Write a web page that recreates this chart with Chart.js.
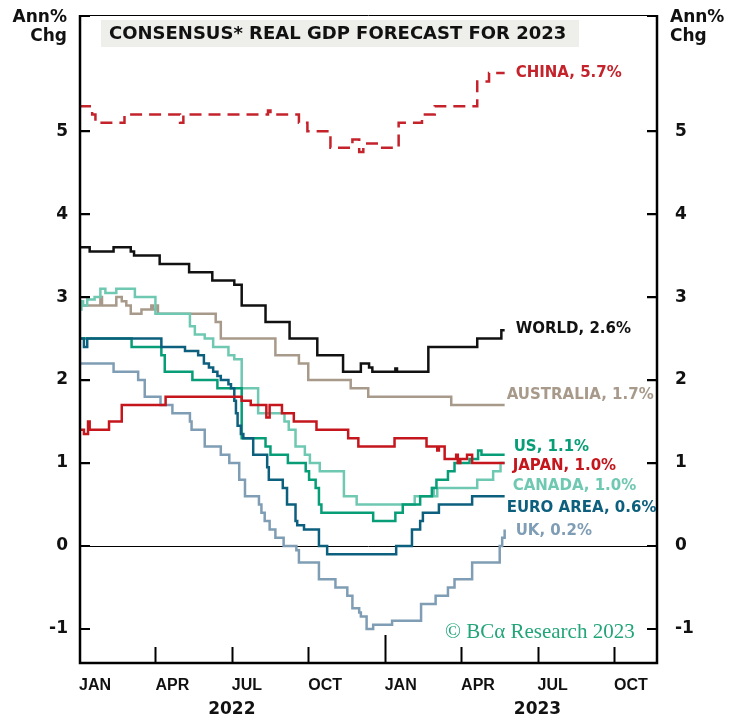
<!DOCTYPE html>
<html>
<head>
<meta charset="utf-8">
<script src="https://cdn.jsdelivr.net/npm/chart.js@4.4.0/dist/chart.umd.min.js"></script>
<style>
  html, body { margin: 0; padding: 0; background: #fff; }
  canvas { display: block; }
</style>
</head>
<body>
<canvas id="gdp" width="740" height="718"></canvas>
<script>
// Axis text
const quarterLabels = ['JAN', 'APR', 'JUL', 'OCT', 'JAN', 'APR', 'JUL', 'OCT'];
const yearLabels = ['2022', '2023'];
const yTickValues = [-1, 0, 1, 2, 3, 4, 5];
const titleText = 'CONSENSUS* REAL GDP FORECAST FOR 2023';
const unitText = ['Ann%', 'Chg'];
const creditText = '\u00A9 BC\u03B1 Research 2023';

// Consensus forecast for 2023 real GDP growth (%), by survey date
const chinaDates = ['2022-01-01','2022-01-17','2022-01-21','2022-02-23','2022-04-30','2022-05-04','2022-08-14','2022-08-17','2022-09-20','2022-09-30','2022-10-28','2022-11-23','2022-12-01','2022-12-06','2022-12-29','2023-01-18','2023-02-14','2023-02-28','2023-04-20','2023-05-04','2023-05-23'];
const chinaValues = [5.3,5.2,5.1,5.2,5.1,5.2,5.25,5.2,5.1,5.0,4.8,4.9,4.75,4.85,4.8,5.1,5.2,5.3,5.6,5.7,5.7];

const worldDates = ['2022-01-01','2022-01-14','2022-02-11','2022-03-02','2022-03-06','2022-04-06','2022-05-11','2022-06-08','2022-07-04','2022-07-13','2022-08-11','2022-09-09','2022-10-12','2022-11-12','2022-12-03','2022-12-13','2022-12-17','2023-01-14','2023-01-16','2023-02-21','2023-04-20','2023-05-19','2023-05-23'];
const worldValues = [3.6,3.55,3.6,3.55,3.5,3.4,3.3,3.2,3.15,2.9,2.7,2.5,2.3,2.1,2.2,2.15,2.1,2.14,2.1,2.4,2.5,2.6,2.6];

const australiaDates = ['2022-01-01','2022-01-27','2022-01-29','2022-02-14','2022-02-20','2022-02-25','2022-03-02','2022-03-15','2022-03-27','2022-03-29','2022-04-02','2022-04-04','2022-06-12','2022-06-18','2022-08-23','2022-09-20','2022-10-01','2022-11-21','2022-12-12','2023-03-20','2023-05-23'];
const australiaValues = [2.9,3.0,2.9,3.0,2.95,2.9,2.8,2.85,2.9,2.85,2.9,2.8,2.7,2.5,2.3,2.2,2.0,1.9,1.8,1.7,1.7];

const usDates = ['2022-01-01','2022-03-03','2022-04-08','2022-04-12','2022-05-15','2022-06-14','2022-07-13','2022-08-11','2022-08-17','2022-09-07','2022-09-28','2022-10-02','2022-10-10','2022-10-14','2022-10-17','2022-12-18','2023-01-14','2023-01-23','2023-02-12','2023-02-25','2023-03-02','2023-03-16','2023-03-24','2023-04-11','2023-04-21','2023-04-25','2023-05-23'];
const usValues = [2.5,2.4,2.3,2.1,2.0,1.9,1.3,1.2,1.1,1.0,0.9,0.8,0.7,0.5,0.4,0.3,0.4,0.5,0.6,0.7,0.8,0.9,1.0,1.05,1.15,1.1,1.1];

const japanDates = ['2022-01-01','2022-01-07','2022-01-12','2022-01-14','2022-02-06','2022-02-20','2022-04-13','2022-07-13','2022-07-24','2022-08-12','2022-08-16','2022-08-31','2022-09-14','2022-10-11','2022-11-18','2022-11-30','2023-01-13','2023-02-19','2023-03-03','2023-03-05','2023-03-12','2023-03-26','2023-03-28','2023-03-31','2023-04-08','2023-04-14','2023-05-23'];
const japanValues = [1.4,1.35,1.5,1.4,1.5,1.7,1.8,1.75,1.7,1.55,1.7,1.6,1.5,1.4,1.3,1.2,1.3,1.2,1.15,1.2,1.05,1.1,1.0,1.05,1.1,1.0,1.0];

const canadaDates = ['2022-01-01','2022-01-04','2022-01-06','2022-01-11','2022-01-20','2022-01-27','2022-02-02','2022-02-14','2022-03-07','2022-04-01','2022-05-12','2022-05-18','2022-05-30','2022-06-09','2022-06-27','2022-07-04','2022-07-13','2022-08-02','2022-09-03','2022-09-08','2022-09-16','2022-09-27','2022-10-03','2022-10-15','2022-11-13','2022-11-28','2023-02-06','2023-02-25','2023-02-27','2023-03-03','2023-04-20','2023-05-09','2023-05-18','2023-05-23'];
const canadaValues = [2.85,2.95,2.9,2.97,3.0,3.1,3.05,3.1,3.0,2.8,2.65,2.55,2.5,2.4,2.3,2.25,1.9,1.6,1.5,1.4,1.2,1.1,1.0,0.9,0.6,0.5,0.6,0.7,0.6,0.7,0.8,0.9,1.0,1.0];

const euroDates = ['2022-01-01','2022-01-07','2022-01-11','2022-04-08','2022-05-06','2022-05-22','2022-05-29','2022-06-04','2022-06-09','2022-06-14','2022-06-18','2022-06-27','2022-06-30','2022-07-04','2022-07-06','2022-07-08','2022-07-12','2022-07-15','2022-07-27','2022-08-13','2022-08-15','2022-09-01','2022-09-06','2022-09-16','2022-09-18','2022-09-26','2022-10-14','2022-10-24','2023-01-15','2023-02-03','2023-02-12','2023-02-15','2023-03-05','2023-04-14','2023-05-23'];
const euroValues = [2.5,2.4,2.5,2.4,2.35,2.3,2.2,2.15,2.1,2.05,2.0,1.95,1.9,1.75,1.6,1.45,1.35,1.3,1.1,0.95,0.8,0.7,0.5,0.3,0.25,0.2,0.0,-0.1,0.0,0.2,0.3,0.4,0.5,0.6,0.6];

const ukDates = ['2022-01-01','2022-02-11','2022-03-11','2022-03-19','2022-04-07','2022-04-21','2022-05-12','2022-05-14','2022-05-30','2022-06-18','2022-06-28','2022-07-10','2022-07-17','2022-08-03','2022-08-06','2022-08-10','2022-08-16','2022-08-23','2022-09-02','2022-09-17','2022-09-20','2022-10-14','2022-11-03','2022-11-17','2022-11-23','2022-12-01','2022-12-03','2022-12-10','2022-12-18','2023-01-10','2023-02-13','2023-03-01','2023-03-16','2023-03-24','2023-04-14','2023-05-17','2023-05-20','2023-05-23'];
const ukValues = [2.2,2.1,2.0,1.8,1.7,1.6,1.5,1.4,1.2,1.1,1.0,0.8,0.6,0.5,0.4,0.3,0.2,0.1,0.0,-0.05,-0.2,-0.4,-0.5,-0.6,-0.75,-0.8,-0.85,-1.0,-0.95,-0.9,-0.7,-0.6,-0.5,-0.4,-0.2,0.0,0.1,0.2];

// Months elapsed since 1 Jan 2022 (fractional), used as the x value
function monthIndex(dateStr) {
  const [y, m, d] = dateStr.split('-').map(Number);
  const daysInMonth = new Date(y, m, 0).getDate();
  return (y - 2022) * 12 + (m - 1) + (d - 1) / daysInMonth;
}

// Series, first entry drawn on top; label offsets are in pixels from the line end
const series = [
  { name: 'CHINA',     dates: chinaDates,     values: chinaValues,     color: '#c4232b', dash: [12, 7], dx: 11, dy: 0 },
  { name: 'WORLD',     dates: worldDates,     values: worldValues,     color: '#111111', dx: 11, dy: -1 },
  { name: 'JAPAN',     dates: japanDates,     values: japanValues,     color: '#c4161c', dx: 8,  dy: 3 },
  { name: 'EURO AREA', dates: euroDates,      values: euroValues,      color: '#0d5f7e', dx: 2,  dy: 12 },
  { name: 'US',        dates: usDates,        values: usValues,        color: '#079d77', dx: 9,  dy: -8 },
  { name: 'CANADA',    dates: canadaDates,    values: canadaValues,    color: '#6fc8b1', dx: 8,  dy: 23 },
  { name: 'AUSTRALIA', dates: australiaDates, values: australiaValues, color: '#a89a8b', dx: 2,  dy: -10 },
  { name: 'UK',        dates: ukDates,        values: ukValues,        color: '#7f9db4', dx: 11, dy: 2 }
];

const SANS = '"DejaVu Sans", Verdana, sans-serif';

const chartDecor = {
  id: 'chartDecor',
  beforeDatasetsDraw(chart) {
    const { ctx, chartArea: a, scales: { y } } = chart;
    ctx.save();
    // zero line
    const y0 = Math.round(y.getPixelForValue(0)) + 0.5;
    ctx.strokeStyle = '#000';
    ctx.lineWidth = 1;
    ctx.beginPath();
    ctx.moveTo(a.left, y0);
    ctx.lineTo(a.right, y0);
    ctx.stroke();
    ctx.restore();
  },
  afterDatasetsDraw(chart) {
    const { ctx, chartArea: a, scales: { x, y } } = chart;
    ctx.save();
    ctx.strokeStyle = '#000';
    ctx.lineCap = 'butt';

    // frame: thin top edge, heavy axes
    ctx.lineWidth = 1;
    ctx.beginPath();
    ctx.moveTo(a.left, a.top + 0.5);
    ctx.lineTo(a.right, a.top + 0.5);
    ctx.stroke();

    ctx.lineWidth = 2.5;
    ctx.beginPath();
    ctx.moveTo(a.left + 1, a.top);
    ctx.lineTo(a.left + 1, a.bottom + 1.25);
    ctx.moveTo(a.right - 1, a.top);
    ctx.lineTo(a.right - 1, a.bottom + 1.25);
    ctx.moveTo(a.left, a.bottom);
    ctx.lineTo(a.right, a.bottom);
    ctx.stroke();

    // inward tick marks on both value axes, including the top corners
    const tickLen = 11;
    const tickYs = yTickValues.map(v => y.getPixelForValue(v)).concat([a.top + 1]);
    ctx.lineWidth = 2.2;
    ctx.beginPath();
    tickYs.forEach(py => {
      ctx.moveTo(a.left, py);
      ctx.lineTo(a.left + tickLen, py);
      ctx.moveTo(a.right, py);
      ctx.lineTo(a.right - tickLen, py);
    });
    ctx.stroke();

    // quarter ticks rising from the time axis; year start is taller
    ctx.lineWidth = 2;
    ctx.beginPath();
    quarterLabels.forEach((_, i) => {
      if (i === 0) return;
      const px = Math.round(x.getPixelForValue(i * 3)) + 0.5;
      const len = (i % 4 === 0) ? 28 : 16;
      ctx.moveTo(px, a.bottom);
      ctx.lineTo(px, a.bottom - len);
    });
    ctx.stroke();

    // series end labels
    ctx.font = `bold 15px ${SANS}`;
    ctx.textAlign = 'left';
    ctx.textBaseline = 'middle';
    series.forEach(s => {
      const n = s.values.length;
      const last = s.values[n - 1];
      const px = x.getPixelForValue(monthIndex(s.dates[n - 1])) + s.dx;
      const py = y.getPixelForValue(last) + s.dy;
      ctx.fillStyle = s.color;
      ctx.fillText(`${s.name}, ${last.toFixed(1)}%`, px, py);
    });

    // year captions centred under July of each year
    ctx.fillStyle = '#111';
    ctx.font = `bold 17px ${SANS}`;
    ctx.textAlign = 'center';
    ctx.textBaseline = 'alphabetic';
    yearLabels.forEach((t, i) => {
      ctx.fillText(t, x.getPixelForValue(6 + i * 12), 714);
    });

    // title banner
    ctx.fillStyle = '#eeeeea';
    ctx.fillRect(101, 20, 478, 27);
    ctx.fillStyle = '#111';
    ctx.font = `bold 18px ${SANS}`;
    ctx.textAlign = 'left';
    ctx.fillText(titleText, 109, 38.5);

    // unit captions at both axes
    ctx.font = `bold 17px ${SANS}`;
    ctx.textAlign = 'right';
    ctx.fillText(unitText[0], 67, 22);
    ctx.fillText(unitText[1], 67, 41);
    ctx.textAlign = 'left';
    ctx.fillText(unitText[0], 670, 22);
    ctx.fillText(unitText[1], 670, 41);

    // credit line
    ctx.fillStyle = '#22a578';
    ctx.font = '21px "Liberation Serif", "DejaVu Serif", serif';
    ctx.fillText(creditText, 445, 638);

    ctx.restore();
  }
};

const valueTicks = (side) => ({
  padding: side === 'left' ? 11 : 17,
  color: '#111',
  font: { family: SANS, weight: 'bold', size: 17 },
  callback: v => String(v)
});

// keep the plot area fixed: no extra room for the end tick labels
const noEdgePadding = s => { s.paddingTop = 0; s.paddingBottom = 0; s.paddingLeft = 0; s.paddingRight = 0; };

new Chart(document.getElementById('gdp'), {
  type: 'line',
  data: {
    datasets: series.map(s => ({
      label: s.name,
      data: s.dates.map((d, i) => ({ x: monthIndex(d), y: s.values[i] })),
      borderColor: s.color,
      borderWidth: 2.5,
      borderDash: s.dash || [],
      stepped: true,
      pointRadius: 0,
      fill: false,
      yAxisID: 'y'
    }))
  },
  options: {
    responsive: false,
    animation: false,
    devicePixelRatio: 1,
    layout: { padding: { top: 15, left: 0, right: 0, bottom: 0 } },
    plugins: { legend: { display: false }, tooltip: { enabled: false }, title: { display: false } },
    scales: {
      x: {
        type: 'linear',
        min: 0,
        max: 22.73,
        grid: { display: false, drawTicks: false },
        border: { display: false },
        ticks: {
          align: 'start',
          padding: 13,
          autoSkip: false,
          maxRotation: 0,
          color: '#111',
          font: { family: '"Liberation Sans", Arial, sans-serif', weight: 'bold', size: 16 },
          callback: (v, i) => quarterLabels[i]
        },
        afterBuildTicks: s => { s.ticks = quarterLabels.map((_, i) => ({ value: i * 3 })); },
        afterFit: s => { s.height = 55; noEdgePadding(s); }
      },
      y: {
        position: 'left',
        min: -1.41,
        max: 6.4,
        grid: { display: false, drawTicks: false },
        border: { display: false },
        ticks: valueTicks('left'),
        afterBuildTicks: s => { s.ticks = yTickValues.map(v => ({ value: v })); },
        afterFit: s => { s.width = 79; noEdgePadding(s); }
      },
      y2: {
        position: 'right',
        min: -1.41,
        max: 6.4,
        grid: { display: false, drawTicks: false },
        border: { display: false },
        ticks: valueTicks('right'),
        afterBuildTicks: s => { s.ticks = yTickValues.map(v => ({ value: v })); },
        afterFit: s => { s.width = 82; noEdgePadding(s); }
      }
    }
  },
  plugins: [chartDecor]
});
</script>
</body>
</html>
